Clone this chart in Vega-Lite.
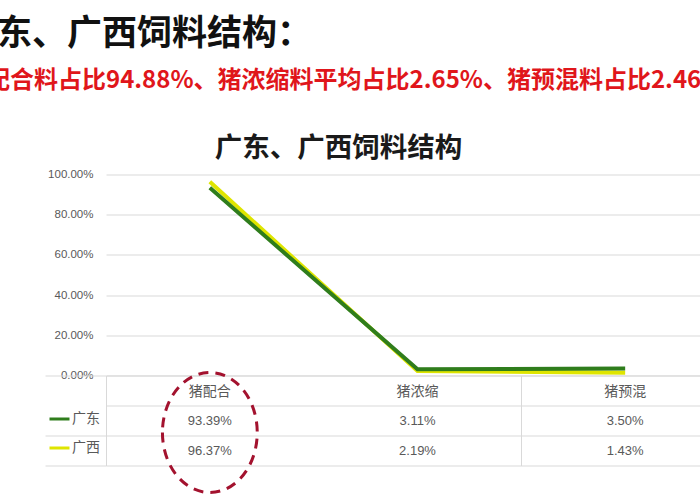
{
  "$schema": "https://vega.github.io/schema/vega-lite/v6.json",
  "padding": {"left": -38, "top": 16.5, "right": 0, "bottom": 0},
  "background": "white",
  "title": {
    "text": "广东、广西饲料结构：",
    "subtitle": "猪配合料占比94.88%、猪浓缩料平均占比2.65%、猪预混料占比2.46%",
    "anchor": "start",
    "frame": "group",
    "dx": -144,
    "font": "Noto Sans CJK SC",
    "fontSize": 35,
    "fontWeight": "bold",
    "color": "#111111",
    "subtitleFont": "Noto Sans CJK SC",
    "subtitleFontSize": 24,
    "subtitleFontWeight": "bold",
    "subtitleColor": "#e0161b",
    "subtitlePadding": 16.5,
    "offset": 42
  },
  "config": {"view": {"stroke": null}},
  "bounds": "flush",
  "spacing": 0,
  "resolve": {"scale": {"x": "independent", "y": "independent", "color": "independent"}},
  "datasets": {
    "feed": [
      {"cat": "猪配合", "series": "广西", "value": 0.9637},
      {"cat": "猪浓缩", "series": "广西", "value": 0.0219},
      {"cat": "猪预混", "series": "广西", "value": 0.0143},
      {"cat": "猪配合", "series": "广东", "value": 0.9339},
      {"cat": "猪浓缩", "series": "广东", "value": 0.0311},
      {"cat": "猪预混", "series": "广东", "value": 0.0350}
    ]
  },
  "vconcat": [
    {
      "width": 623,
      "height": 201,
      "title": {
        "text": "广东、广西饲料结构",
        "font": "Noto Sans CJK SC",
        "fontSize": 27.5,
        "fontWeight": "bold",
        "color": "#1a1a1a",
        "anchor": "middle",
        "dx": -79,
        "offset": 6.5
      },
      "data": {"name": "feed"},
      "mark": {"type": "line", "strokeWidth": 4},
      "encoding": {
        "x": {
          "field": "cat",
          "type": "nominal",
          "sort": ["猪配合", "猪浓缩", "猪预混"],
          "scale": {"type": "point", "padding": 0.5},
          "axis": null
        },
        "y": {
          "field": "value",
          "type": "quantitative",
          "scale": {"domain": [0, 1]},
          "axis": {
            "values": [0, 0.2, 0.4, 0.6, 0.8, 1],
            "format": ".2%",
            "labelFont": "Liberation Sans",
            "labelFontSize": 11.5,
            "labelColor": "#595959",
            "labelPadding": 13,
            "ticks": false,
            "domain": false,
            "gridColor": "#d9d9d9",
            "title": null
          }
        },
        "color": {
          "field": "series",
          "type": "nominal",
          "scale": {"domain": ["广东", "广西"], "range": ["#2f7d1c", "#dfe500"]},
          "legend": {
            "orient": "none",
            "legendX": -58,
            "legendY": 233,
            "title": null,
            "symbolType": "stroke",
            "symbolSize": 400,
            "symbolStrokeWidth": 3,
            "labelFont": "Noto Sans CJK SC",
            "labelFontSize": 14,
            "labelColor": "#595959",
            "labelOffset": 1,
            "rowPadding": 10,
            "direction": "vertical"
          }
        }
      }
    },
    {
      "width": 623,
      "height": 90,
      "data": {"name": "feed"},
      "encoding": {
        "x": {
          "field": "cat",
          "type": "nominal",
          "sort": ["猪配合", "猪浓缩", "猪预混"],
          "scale": {"paddingInner": 0, "paddingOuter": 0},
          "axis": {
            "labels": false,
            "ticks": false,
            "domain": false,
            "grid": true,
            "tickBand": "extent",
            "gridColor": {"condition": {"test": "datum.value === '猪配合'", "value": "transparent"}, "value": "#d9d9d9"},
            "title": null
          }
        }
      },
      "layer": [
        {
          "mark": {"type": "text", "font": "Liberation Sans", "fontSize": 13, "color": "#595959"},
          "encoding": {
            "y": {
              "field": "series",
              "type": "nominal",
              "scale": {"domain": ["header", "广东", "广西"], "paddingInner": 0, "paddingOuter": 0},
              "axis": {
                "labels": false,
                "domain": false,
                "grid": true,
                "gridColor": "#d9d9d9",
                "tickBand": "extent",
                "ticks": true,
                "tickSize": 61,
                "tickColor": {"condition": {"test": "datum.value === 'header'", "value": "transparent"}, "value": "#d9d9d9"},
                "title": null
              }
            },
            "text": {"field": "value", "type": "quantitative", "format": ".2%"}
          }
        },
        {
          "transform": [{"aggregate": [{"op": "count", "as": "n"}], "groupby": ["cat"]}],
          "mark": {"type": "text", "font": "Noto Sans CJK SC", "fontSize": 14, "color": "#595959", "dy": 1},
          "encoding": {
            "y": {"datum": "header", "type": "nominal"},
            "text": {"field": "cat", "type": "nominal"}
          }
        },
        {
          "transform": [{"filter": "datum.cat === '猪配合' && datum.series === '广东'"}],
          "mark": {
            "type": "point",
            "shape": "M -0.79,0 A 0.79,1 0 1,0 0.79,0 A 0.79,1 0 1,0 -0.79,0 Z",
            "size": 14400,
            "filled": false,
            "stroke": "#a3122e",
            "strokeWidth": 3,
            "strokeDash": [10, 7],
            "opacity": 1
          },
          "encoding": {
            "y": {"field": "series", "type": "nominal", "bandPosition": 0.9}
          }
        }
      ]
    }
  ]
}
